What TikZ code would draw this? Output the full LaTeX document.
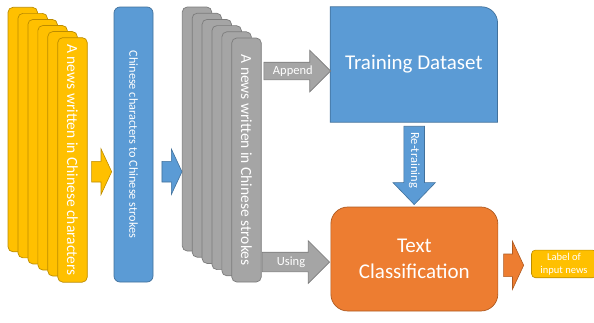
\documentclass[tikz,border=0pt]{standalone}
\usepackage{fontspec}
\setmainfont{Carlito}
\usetikzlibrary{positioning,shapes.arrows,backgrounds,calc}

\definecolor{goldfill}{HTML}{FFC000}
\definecolor{goldline}{HTML}{BC8C00}
\definecolor{bluefill}{HTML}{5B9BD5}
\definecolor{blueline}{HTML}{41719C}
\definecolor{greyfill}{HTML}{A5A5A5}
\definecolor{greyline}{HTML}{7C7C7C}
\definecolor{orangefill}{HTML}{ED7D31}
\definecolor{orangeline}{HTML}{AE5A21}

\begin{document}
\begin{tikzpicture}[
  x=1pt, y=-1pt,
  every node/.style={text=white, inner sep=0pt},
  card/.style    ={draw, rounded corners=5pt, line width=0.7pt, rotate=-90,
                   minimum width=244.5pt, minimum height=29.5pt,
                   font=\fontsize{15.5pt}{18pt}\selectfont},
  newscard/.style={card, draw=goldline, fill=goldfill},
  strokecard/.style={card, draw=greyline, fill=greyfill, minimum width=244pt},
  bigbox/.style  ={minimum width=167pt, align=center,
                   font=\fontsize{21pt}{25.5pt}\selectfont},
  % shaft half width = inner ysep (+ half the text box)
  blockarr/.style={single arrow, draw, line width=0.6pt, anchor=tip,
                   minimum height=20pt, inner ysep=10pt,
                   single arrow head extend=12.5pt, single arrow tip angle=130},
  lblarr/.style  ={single arrow, draw, line width=0.6pt, anchor=tip,
                   single arrow tip angle=90, text height=8.5pt, text depth=2.5pt,
                   font=\fontsize{12.5pt}{14pt}\selectfont},
  greyarr/.style ={lblarr, draw=greyline, fill=greyfill}]

\useasboundingbox (0,0) rectangle (594,322);

%% ── Stack of news items (characters) ─────────────────────────────
\foreach \i in {0,...,4}
  \node[newscard] (news\i) at ({22.75+9.95*\i},{129.55+6.07*\i}) {};
\node[newscard] (news5) at (72.5,159.9) {A news written in Chinese characters};

%% ── Conversion step ──────────────────────────────────────────────
\node[card, draw=blueline, fill=bluefill, rounded corners=6pt,
      minimum width=275pt, minimum height=39pt,
      font=\fontsize{12.3pt}{14pt}\selectfont]
  (convert) at (133.5,144.5) {Chinese characters to Chinese strokes};

%% ── Stack of news items (strokes) ────────────────────────────────
\foreach \i in {0,...,4}
  \node[strokecard] (stroke\i) at ({197+9.9*\i},{129+6.2*\i}) {};
\node[strokecard] (stroke5) at (246.5,160) {A news written in Chinese strokes};

%% ── Training set and classifier ──────────────────────────────────
\node[bigbox, minimum height=115pt] (train) at (413.85,64.5) {Training Dataset};
\begin{scope}[on background layer]
  \filldraw[draw=blueline, fill=bluefill, line width=0.7pt]
    (train.south west) -- (train.north west) -- ([xshift=-16pt]train.north east)
    arc[start angle=90, end angle=0, radius=16pt] -- (train.south east) -- cycle;
\end{scope}

\node[bigbox, draw=orangeline, fill=orangefill, line width=0.7pt,
      rounded corners=17pt, minimum height=104pt]
  (classify) at (414.35,259) {Text\\Classification};

\node[draw=goldline, fill=goldfill, line width=0.6pt, rounded corners=4pt,
      minimum width=65pt, minimum height=27.7pt, align=center,
      font=\fontsize{10.5pt}{13pt}\selectfont]
  (result) at (564,263.9) {Label of\\input news};

%% ── Block arrows ─────────────────────────────────────────────────
\node[blockarr, draw=goldline, fill=goldfill] (toconvert) at (112,171.7) {};
\node[blockarr, draw=blueline, fill=bluefill] (tostrokes) at (182.3,171.7) {};

\node[greyarr, minimum height=66.7pt, inner ysep=3pt,
      single arrow head extend=12pt] (append) at (331,71) {Append};
\node[greyarr, minimum height=67.3pt, inner ysep=4pt,
      single arrow head extend=11.5pt] (using) at (330,262) {Using};

\node[lblarr, draw=blueline, fill=bluefill, rotate=-90,
      minimum height=78.3pt, inner ysep=4.5pt,
      single arrow head extend=10.85pt, single arrow tip angle=88]
  (retrain) at (414.2,205) {Re-training};

\node[blockarr, draw=orangeline, fill=orangefill, inner ysep=11pt,
      single arrow head extend=12.7pt] (tolabel) at (524,265.3) {};
\end{tikzpicture}
\end{document}
